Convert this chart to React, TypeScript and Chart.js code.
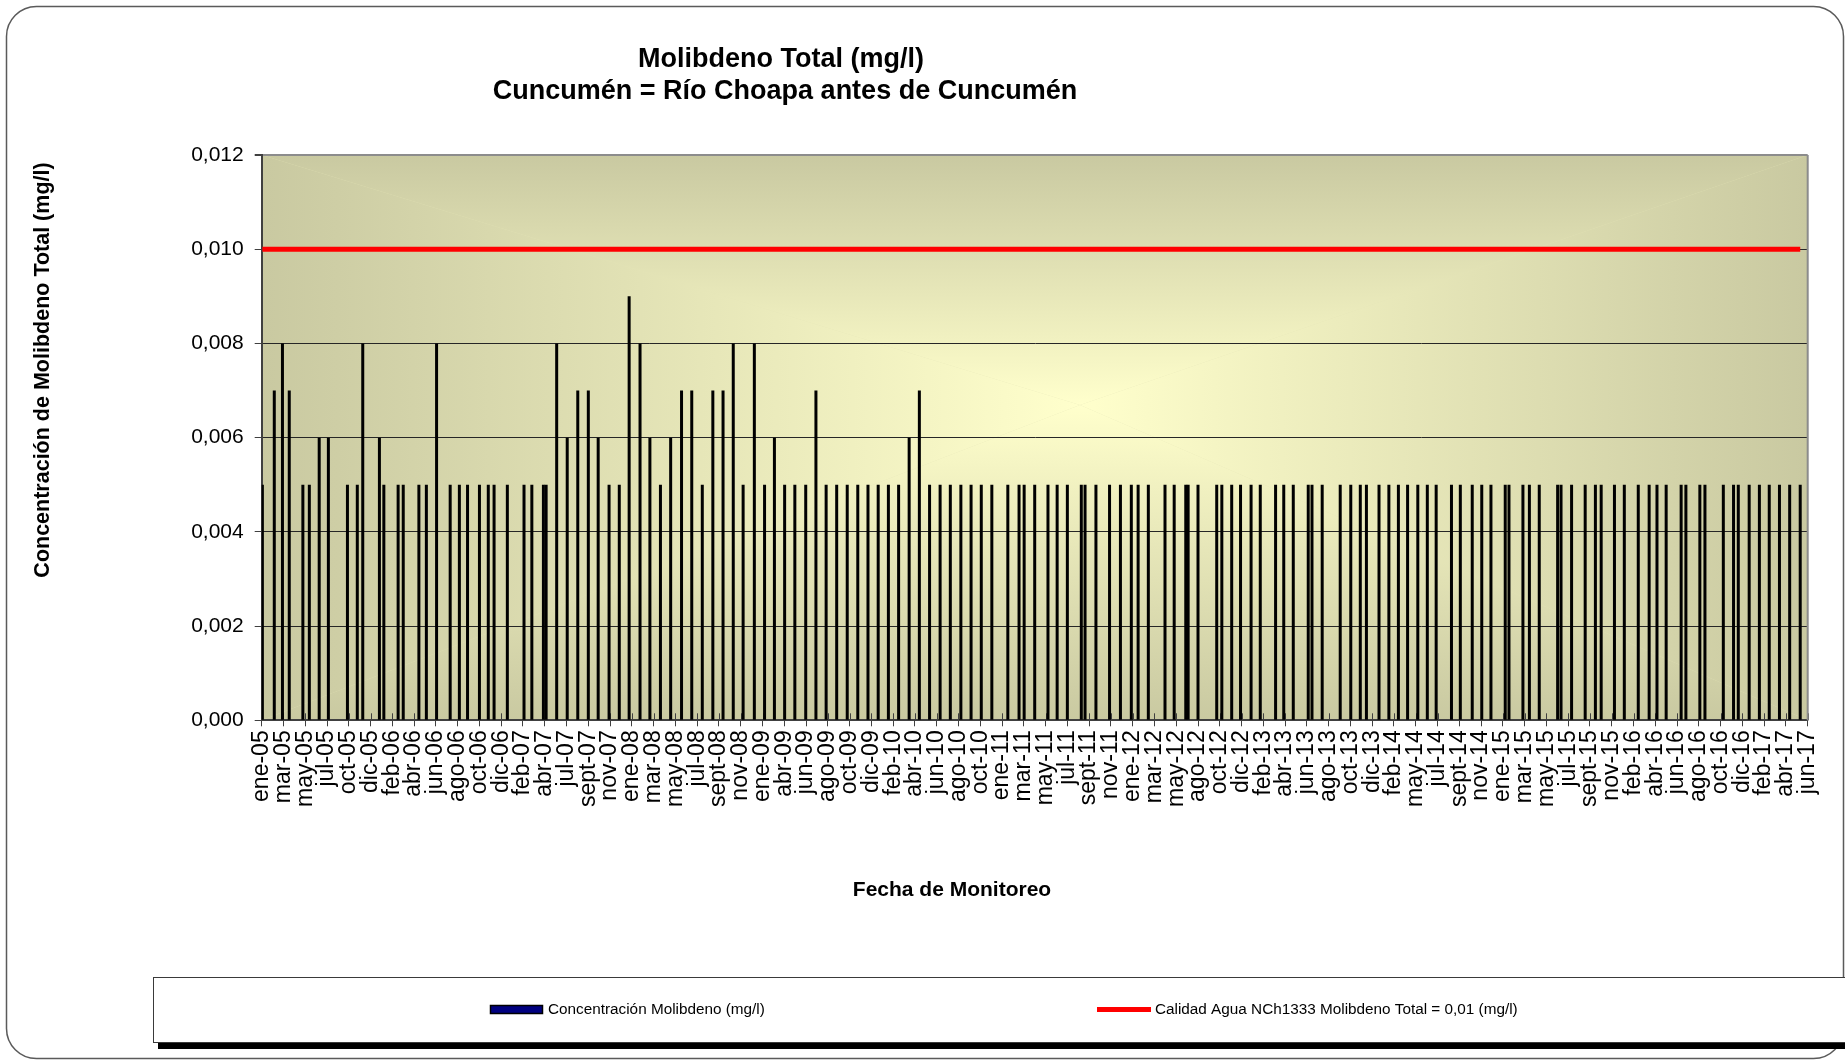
import { useEffect, useRef } from 'react';
import { Chart, registerables } from 'chart.js';

Chart.register(...registerables);

// ---------------- data ----------------
const sampleDates = [
  '2005-01-20', '2005-02-24', '2005-03-20', '2005-04-09', '2005-05-19', '2005-06-07', '2005-07-06', '2005-08-02', '2005-09-27', '2005-10-26', '2005-11-11', '2005-12-30',
  '2006-01-12', '2006-02-23', '2006-03-10', '2006-04-25', '2006-05-17', '2006-06-16', '2006-07-26', '2006-08-22', '2006-09-15', '2006-10-20', '2006-11-15', '2006-12-02',
  '2007-01-10', '2007-02-28', '2007-03-23', '2007-04-26', '2007-05-04', '2007-06-04', '2007-07-05', '2007-08-05', '2007-09-05', '2007-10-04', '2007-11-05', '2007-12-05',
  '2008-01-03', '2008-02-04', '2008-03-04', '2008-04-04', '2008-05-04', '2008-06-05', '2008-07-05', '2008-08-05', '2008-09-05', '2008-10-05', '2008-11-04', '2008-12-03',
  '2009-01-05', '2009-02-04', '2009-03-05', '2009-04-04', '2009-05-04', '2009-06-05', '2009-07-05', '2009-08-04', '2009-09-04', '2009-10-05', '2009-11-05', '2009-12-05',
  '2010-01-04', '2010-02-03', '2010-03-05', '2010-04-05', '2010-05-05', '2010-06-04', '2010-07-05', '2010-08-04', '2010-09-04', '2010-10-04', '2010-11-03', '2010-12-04',
  '2011-01-20', '2011-02-22', '2011-03-09', '2011-04-09', '2011-05-18', '2011-06-14', '2011-07-14', '2011-08-24', '2011-09-04', '2011-10-06', '2011-11-15', '2011-12-17',
  '2012-01-18', '2012-02-07', '2012-03-08', '2012-04-26', '2012-05-23', '2012-06-26', '2012-07-03', '2012-08-01', '2012-09-25', '2012-10-10', '2012-11-08', '2012-12-04',
  '2013-01-04', '2013-01-31', '2013-03-17', '2013-04-10', '2013-05-08', '2013-06-21', '2013-07-02', '2013-08-01', '2013-09-23', '2013-10-24', '2013-11-21', '2013-12-09',
  '2014-01-15', '2014-02-13', '2014-03-13', '2014-04-09', '2014-05-09', '2014-06-06', '2014-07-02', '2014-08-16', '2014-09-11', '2014-10-16', '2014-11-13', '2014-12-10',
  '2015-01-21', '2015-02-01', '2015-03-14', '2015-04-02', '2015-05-01', '2015-06-24', '2015-07-04', '2015-08-04', '2015-09-13', '2015-10-13', '2015-10-30', '2015-12-08',
  '2016-01-06', '2016-02-16', '2016-03-19', '2016-04-11', '2016-05-08', '2016-06-21', '2016-07-05', '2016-08-15', '2016-08-30', '2016-10-23', '2016-11-22', '2016-12-06',
  '2017-01-07', '2017-02-06', '2017-03-07', '2017-04-06', '2017-05-06', '2017-06-06',
];

const molybdenumValues = [
  0.005, 0.007, 0.008, 0.007, 0.005, 0.005, 0.006, 0.006, 0.005, 0.005, 0.008, 0.006,
  0.005, 0.005, 0.005, 0.005, 0.005, 0.008, 0.005, 0.005, 0.005, 0.005, 0.005, 0.005,
  0.005, 0.005, 0.005, 0.005, 0.005, 0.008, 0.006, 0.007, 0.007, 0.006, 0.005, 0.005,
  0.009, 0.008, 0.006, 0.005, 0.006, 0.007, 0.007, 0.005, 0.007, 0.007, 0.008, 0.005,
  0.008, 0.005, 0.006, 0.005, 0.005, 0.005, 0.007, 0.005, 0.005, 0.005, 0.005, 0.005,
  0.005, 0.005, 0.005, 0.006, 0.007, 0.005, 0.005, 0.005, 0.005, 0.005, 0.005, 0.005,
  0.005, 0.005, 0.005, 0.005, 0.005, 0.005, 0.005, 0.005, 0.005, 0.005, 0.005, 0.005,
  0.005, 0.005, 0.005, 0.005, 0.005, 0.005, 0.005, 0.005, 0.005, 0.005, 0.005, 0.005,
  0.005, 0.005, 0.005, 0.005, 0.005, 0.005, 0.005, 0.005, 0.005, 0.005, 0.005, 0.005,
  0.005, 0.005, 0.005, 0.005, 0.005, 0.005, 0.005, 0.005, 0.005, 0.005, 0.005, 0.005,
  0.005, 0.005, 0.005, 0.005, 0.005, 0.005, 0.005, 0.005, 0.005, 0.005, 0.005, 0.005,
  0.005, 0.005, 0.005, 0.005, 0.005, 0.005, 0.005, 0.005, 0.005, 0.005, 0.005, 0.005,
  0.005, 0.005, 0.005, 0.005, 0.005, 0.005,
];

const limitValue = 0.01;

const axisStartDate = '2005-01-18';
const tickStepDays = 64;
const xTickLabels = [
  'ene-05', 'mar-05', 'may-05', 'jul-05', 'oct-05', 'dic-05', 'feb-06', 'abr-06', 'jun-06', 'ago-06', 'oct-06', 'dic-06',
  'feb-07', 'abr-07', 'jul-07', 'sept-07', 'nov-07', 'ene-08', 'mar-08', 'may-08', 'jul-08', 'sept-08', 'nov-08', 'ene-09',
  'abr-09', 'jun-09', 'ago-09', 'oct-09', 'dic-09', 'feb-10', 'abr-10', 'jun-10', 'ago-10', 'oct-10', 'ene-11', 'mar-11',
  'may-11', 'jul-11', 'sept-11', 'nov-11', 'ene-12', 'mar-12', 'may-12', 'ago-12', 'oct-12', 'dic-12', 'feb-13', 'abr-13',
  'jun-13', 'ago-13', 'oct-13', 'dic-13', 'feb-14', 'may-14', 'jul-14', 'sept-14', 'nov-14', 'ene-15', 'mar-15', 'may-15',
  'jul-15', 'sept-15', 'nov-15', 'feb-16', 'abr-16', 'jun-16', 'ago-16', 'oct-16', 'dic-16', 'feb-17', 'abr-17', 'jun-17',
];

const yMin = 0;
const yMax = 0.012;
const yStep = 0.002;

const titleLines = ['Molibdeno Total (mg/l)', 'Cuncumén = Río Choapa antes de Cuncumén'];
const xAxisTitle = 'Fecha de Monitoreo';
const yAxisTitle = 'Concentración de Molibdeno Total (mg/l)';
const seriesLabel = 'Concentración Molibdeno (mg/l)';
const limitLabel = 'Calidad Agua NCh1333 Molibdeno Total = 0,01 (mg/l)';

// ---------------- helpers ----------------
const W = 1845;
const H = 1062;
const FONT = '"Liberation Sans", Arial, Helvetica, sans-serif';
const DAY_MS = 86400000;
const dayOffset = (d: string) => (Date.parse(d) - Date.parse(axisStartDate)) / DAY_MS;
const BAR_LEGEND_FILL = '#000080';

function fillPathGradient(ctx: CanvasRenderingContext2D, l: number, t: number, r: number, b: number, cx: number, cy: number, inner: string, outer: string) {
  ctx.fillStyle = '#e4e4b6';
  ctx.fillRect(l, t, r - l, b - t);
  const tri = (pts: number[][], g: CanvasGradient) => {
    ctx.beginPath();
    ctx.moveTo(pts[0][0], pts[0][1]);
    ctx.lineTo(pts[1][0], pts[1][1]);
    ctx.lineTo(pts[2][0], pts[2][1]);
    ctx.closePath();
    ctx.fillStyle = g;
    ctx.fill();
  };
  const mk = (x0: number, y0: number, x1: number, y1: number) => {
    const g = ctx.createLinearGradient(x0, y0, x1, y1);
    g.addColorStop(0, inner);
    g.addColorStop(1, outer);
    return g;
  };
  tri([[l, t], [r, t], [cx, cy]], mk(0, cy, 0, t));
  tri([[l, b], [r, b], [cx, cy]], mk(0, cy, 0, b));
  tri([[l, t], [l, b], [cx, cy]], mk(cx, 0, l, 0));
  tri([[r, t], [r, b], [cx, cy]], mk(cx, 0, r, 0));
}

const decorPlugin = {
  id: 'decor',
  beforeDraw(chart: any) {
    const ctx: CanvasRenderingContext2D = chart.ctx;
    const { left, top, right, bottom } = chart.chartArea;
    ctx.save();
    ctx.fillStyle = '#ffffff';
    ctx.fillRect(0, 0, W, H);
    ctx.beginPath();
    (ctx as any).roundRect(6.5, 6.5, 1837, 1052, 30);
    ctx.strokeStyle = '#5a5a5a';
    ctx.lineWidth = 1.5;
    ctx.stroke();
    fillPathGradient(ctx, left, top, right, bottom, 1080, 405, '#ffffcc', '#c9c9a1');
    ctx.fillStyle = '#000000';
    ctx.fillRect(158, 1043, W, 6);
    ctx.fillStyle = '#ffffff';
    ctx.fillRect(153.5, 977.5, W, 65);
    ctx.strokeStyle = '#3a3a3a';
    ctx.lineWidth = 1;
    ctx.strokeRect(153.5, 977.5, W, 65);
    ctx.restore();
  },
  beforeDatasetsDraw(chart: any) {
    const ctx: CanvasRenderingContext2D = chart.ctx;
    const { top, right, bottom } = chart.chartArea;
    const xs = chart.scales.x;
    ctx.save();
    ctx.strokeStyle = '#404040';
    ctx.lineWidth = 1;
    ctx.beginPath();
    xs.ticks.forEach((tk: any) => {
      const px = Math.round(xs.getPixelForValue(tk.value)) + 0.5;
      ctx.moveTo(px, bottom - 7);
      ctx.lineTo(px, bottom);
    });
    ctx.stroke();
    ctx.strokeStyle = '#8c8c8c';
    ctx.lineWidth = 2;
    ctx.beginPath();
    ctx.moveTo(right, top);
    ctx.lineTo(right, bottom);
    ctx.stroke();
    ctx.restore();
  },
  afterDraw(chart: any) {
    const ctx: CanvasRenderingContext2D = chart.ctx;
    const ds = chart.data.datasets;
    ctx.save();
    ctx.fillStyle = '#000000';
    ctx.font = `bold 27px ${FONT}`;
    ctx.textAlign = 'center';
    ctx.textBaseline = 'alphabetic';
    ctx.fillText(titleLines[0], 781, 67);
    ctx.fillText(titleLines[1], 785, 98.5);
    ctx.font = `bold 21px ${FONT}`;
    ctx.fillText(xAxisTitle, 952, 896);
    ctx.save();
    ctx.font = `bold 21.5px ${FONT}`;
    ctx.translate(49, 370);
    ctx.rotate(-Math.PI / 2);
    ctx.fillText(yAxisTitle, 0, 0);
    ctx.restore();
    // legend
    const barDs = ds[1];
    const lineDs = ds[0];
    ctx.fillStyle = BAR_LEGEND_FILL;
    ctx.fillRect(490.5, 1005.5, 52, 8);
    ctx.strokeStyle = barDs.borderColor;
    ctx.lineWidth = 1.5;
    ctx.strokeRect(490.5, 1005.5, 52, 8);
    ctx.font = `15.3px ${FONT}`;
    ctx.textAlign = 'left';
    ctx.textBaseline = 'middle';
    ctx.fillStyle = '#000000';
    ctx.fillText(barDs.label, 548, 1010);
    ctx.strokeStyle = lineDs.borderColor;
    ctx.lineWidth = 5;
    ctx.beginPath();
    ctx.moveTo(1097, 1009.5);
    ctx.lineTo(1151, 1009.5);
    ctx.stroke();
    ctx.fillText(lineDs.label, 1155, 1010);
    ctx.restore();
  },
};

export default function App() {
  const ref = useRef<HTMLCanvasElement>(null);

  useEffect(() => {
    if (!ref.current) return;
    const xs = sampleDates.map(dayOffset);
    const barData = xs.map((x, i) => ({ x, y: molybdenumValues[i] }));
    const limitData = xs.map((x) => ({ x, y: limitValue }));

    const chart = new Chart(ref.current, {
      type: 'bar',
      data: {
        datasets: [
          {
            type: 'line',
            label: limitLabel,
            data: limitData,
            borderColor: '#ff0000',
            backgroundColor: '#ff0000',
            borderWidth: 5,
            pointRadius: 0,
            fill: false,
            tension: 0,
          } as any,
          {
            type: 'bar',
            label: seriesLabel,
            data: barData,
            backgroundColor: '#000000',
            borderColor: '#000000',
            borderWidth: 0,
            barThickness: 3,
            inflateAmount: 0,
          } as any,
        ],
      },
      options: {
        responsive: false,
        maintainAspectRatio: false,
        animation: false,
        devicePixelRatio: 1,
        events: [],
        layout: { padding: { left: 0, right: 37.3, top: 155, bottom: 0 } },
        plugins: {
          legend: { display: false },
          title: { display: false },
          tooltip: { enabled: false },
        },
        scales: {
          x: {
            type: 'linear',
            min: 0,
            max: tickStepDays * (xTickLabels.length - 1),
            offset: false,
            afterBuildTicks: (s: any) => {
              s.ticks = xTickLabels.map((_, i) => ({ value: i * tickStepDays }));
            },
            afterFit: (s: any) => {
              s.height = 341.7;
            },
            ticks: {
              autoSkip: false,
              minRotation: 90,
              maxRotation: 90,
              padding: 4,
              color: '#000000',
              font: { family: FONT, size: 23 },
              callback: (_v: any, i: number) => xTickLabels[i],
            },
            grid: {
              display: true,
              drawOnChartArea: false,
              drawTicks: true,
              tickLength: 6,
              tickColor: '#404040',
              color: '#404040',
              offset: false,
            },
            border: { display: true, color: '#404040', width: 2 },
          },
          y: {
            type: 'linear',
            min: yMin,
            max: yMax,
            afterFit: (s: any) => {
              s.width = 261.7;
            },
            ticks: {
              stepSize: yStep,
              padding: 11,
              color: '#000000',
              font: { family: FONT, size: 21 },
              callback: (v: any) => Number(v).toFixed(3).replace('.', ','),
            },
            grid: {
              color: (c: any) => (c.tick && Math.abs(c.tick.value - yMax) < 1e-9 ? '#8c8c8c' : '#262626'),
              lineWidth: (c: any) => (c.tick && Math.abs(c.tick.value - yMax) < 1e-9 ? 2 : 1),
              tickLength: 7,
              tickColor: '#404040',
            },
            border: { display: true, color: '#404040', width: 2 },
          },
        },
      } as any,
      plugins: [decorPlugin],
    });
    return () => chart.destroy();
  }, []);

  return (
    <div style={{ position: 'fixed', left: 0, top: 0, width: W, height: H, background: '#ffffff' }}>
      <canvas ref={ref} width={W} height={H} style={{ display: 'block', width: W, height: H }} />
    </div>
  );
}
